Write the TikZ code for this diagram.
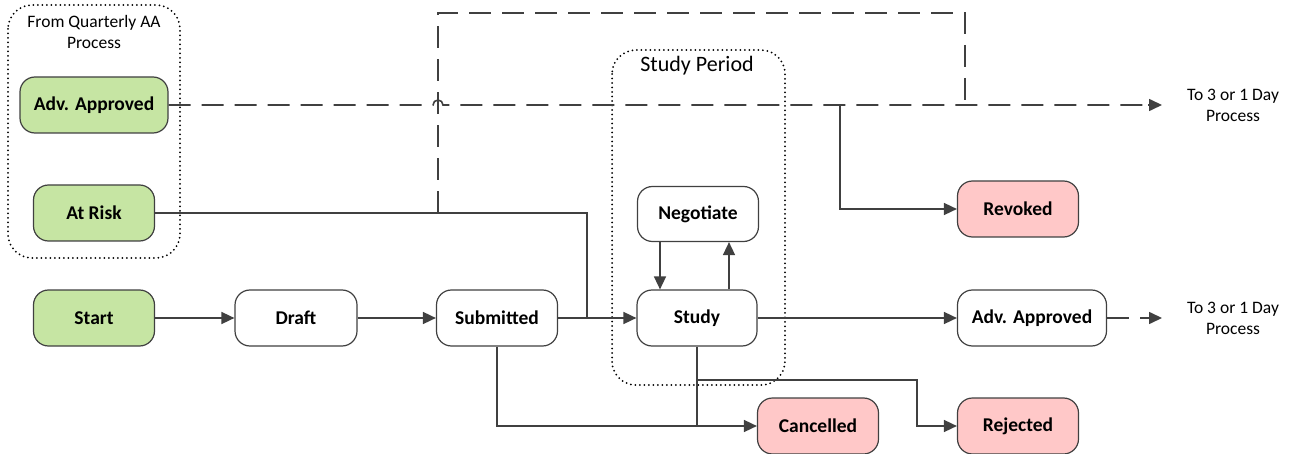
\documentclass[tikz,border=0pt]{standalone}
\usepackage{fontspec}
\setmainfont{Carlito}
\usetikzlibrary{arrows.meta}
\definecolor{ln}{RGB}{64,64,64}
\definecolor{gfill}{RGB}{198,229,163}
\definecolor{pfill}{RGB}{255,200,200}
\tikzset{
  state/.style={draw=ln, line width=1.2pt, rounded corners=15pt, minimum height=56pt, align=center, font=\fontsize{19.5}{22}\selectfont\bfseries, inner sep=0pt},
  gstate/.style={state, fill=gfill},
  pstate/.style={state, fill=pfill},
  wstate/.style={state, fill=white},
  conn/.style={draw=ln, line width=1.6pt, -{Triangle[length=13pt,width=12pt]}},
  plainln/.style={draw=ln, line width=1.6pt},
  dashln/.style={draw=ln, line width=1.6pt, dash pattern=on 22pt off 11pt},
  grp/.style={draw=black, line width=2pt, line cap=round, dash pattern=on 0pt off 4.5pt, rounded corners=24pt},
  lbl/.style={align=center, font=\fontsize{17.5}{21}\selectfont, inner sep=0pt},
}
\begin{document}
\begin{tikzpicture}[x=1pt,y=-1pt]
\useasboundingbox (0,0) rectangle (1300,454);
% groups
\draw[grp] (8,5) rectangle (180,258);
\node[lbl, fill=white, inner sep=1pt] (gq) at (94,32) {From Quarterly AA\\Process};
\draw[grp] (612,50) rectangle (785,385);
\node[lbl, fill=white, font=\fontsize{22}{24}\selectfont, inner sep=2pt] (gs) at (697,66) {Study Period};
% nodes
\node[gstate, minimum width=148pt] (aa1) at (94,105) {Adv. Approved};
\node[gstate, minimum width=121pt] (risk) at (94,213) {At Risk};
\node[gstate, minimum width=121pt] (start) at (94,318) {Start};
\node[wstate, minimum width=122pt] (draft) at (296,318) {Draft};
\node[wstate, minimum width=121pt] (sub) at (497,318) {Submitted};
\node[wstate, minimum width=120pt] (study) at (697,318) {Study};
\node[wstate, minimum width=121pt, minimum height=55pt] (neg) at (698,214) {Negotiate};
\node[wstate, minimum width=149pt] (aa2) at (1032,318) {Adv. Approved};
\node[pstate, minimum width=121pt] (rev) at (1018,209) {Revoked};
\node[pstate, minimum width=121pt] (can) at (818,426) {Cancelled};
\node[pstate, minimum width=121pt] (rej) at (1018,426) {Rejected};
\node[lbl] (to1) at (1233,105) {To 3 or 1 Day\\Process};
\node[lbl] (to2) at (1233,318) {To 3 or 1 Day\\Process};
% coordinates
\coordinate (e1) at (1162,105);
\coordinate (e2) at (1162,318);
\coordinate (j1) at (438,213);
\coordinate (j2) at (840,105);
% connectors
\draw[dashln] (aa1.east) -- (433,105) arc[start angle=180, end angle=360, radius=5] -- (j2) -- ([xshift=-13pt]e1);
\draw[conn] ([xshift=-14pt]e1) -- (e1);
\draw[dashln] (j1) -- (438,13) -- (965,13) -- (965,105);
\draw[plainln] (risk.east) -- (587,213) -- (587,318);
\draw[conn] (start) -- (draft);
\draw[conn] (draft) -- (sub);
\draw[conn] (sub) -- (study);
\draw[conn] (study) -- (aa2);
\draw[dashln] (aa2.east) -- ([xshift=-13pt]e2);
\draw[conn] ([xshift=-14pt]e2) -- (e2);
\draw[conn] (j2) |- (rev.west);
\draw[conn] (neg.south -| 660,0) -- (study.north -| 660,0);
\draw[conn] (study.north -| 729,0) -- (neg.south -| 729,0);
\draw[conn] (study.south) -- (697,426) -- (can.west);
\draw[plainln] (sub.south) |- (697,426);
\draw[conn] (697,380) -- (917,380) |- (rej.west);
\end{tikzpicture}
\end{document}
